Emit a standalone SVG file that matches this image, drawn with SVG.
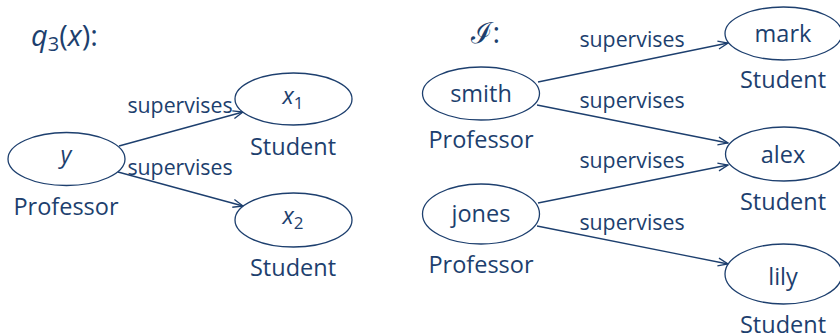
<svg xmlns="http://www.w3.org/2000/svg" width="840" height="336" viewBox="0 0 840 336">
<style>
text{font-family:"Open Sans","Noto Sans","DejaVu Sans",sans-serif;fill:#1d3f6e;text-anchor:middle}
.n{font-size:23.5px}
.l{font-size:21.3px}
.e{font-size:23.5px}
.t{font-size:29px;text-anchor:start}
.i{font-style:italic}
ellipse{fill:#fff;stroke:#1d3f6e;stroke-width:1.3}
.c line{stroke:#1d3f6e;stroke-width:1.3;marker-end:url(#a)}
</style>
<defs>
<marker id="a" viewBox="0 0 12 10" refX="11" refY="5" markerWidth="12" markerHeight="10" markerUnits="userSpaceOnUse" orient="auto">
<path d="M1,1 L11,5 L1,9" fill="none" stroke="#1d3f6e" stroke-width="1.3"/>
</marker>
</defs>
<g id="title-q"><text class="t" x="31" y="46"><tspan class="i">q</tspan><tspan font-size="20" dy="5">3</tspan><tspan dy="-5">(</tspan><tspan class="i">x</tspan>):</text></g>
<g id="title-I"><text class="t" x="471" y="43" font-size="27" font-family="DejaVu Serif, serif">ℐ:</text></g>
<g class="c" id="connectors">
<line x1="119" y1="146" x2="243" y2="112"/>
<line x1="118" y1="172" x2="243" y2="206"/>
<line x1="538" y1="82" x2="728" y2="43"/>
<line x1="537" y1="105" x2="728" y2="143"/>
<line x1="538" y1="203" x2="728" y2="165"/>
<line x1="537" y1="226" x2="728" y2="264"/>
</g>
<g id="labels">
<text class="l" x="180" y="113">supervises</text>
<text class="l" x="180" y="175">supervises</text>
<text class="l" x="632" y="47">supervises</text>
<text class="l" x="632" y="108">supervises</text>
<text class="l" x="632" y="168">supervises</text>
<text class="l" x="632" y="230">supervises</text>
</g>
<g id="node-y"><ellipse cx="66.5" cy="159" rx="58.5" ry="26.5"/><text class="e i" x="66" y="163">y</text><text class="n" x="66" y="215">Professor</text></g>
<g id="node-x1"><ellipse cx="293.5" cy="99" rx="58.5" ry="26"/><text class="e" x="293" y="104"><tspan class="i">x</tspan><tspan font-size="17" dy="5">1</tspan></text><text class="n" x="293" y="155">Student</text></g>
<g id="node-x2"><ellipse cx="293.5" cy="220" rx="58.5" ry="27"/><text class="e" x="293" y="224"><tspan class="i">x</tspan><tspan font-size="17" dy="5">2</tspan></text><text class="n" x="293" y="276">Student</text></g>
<g id="node-smith"><ellipse cx="481" cy="93.5" rx="58.5" ry="26.5"/><text class="e" x="481" y="102">smith</text><text class="n" x="481" y="148">Professor</text></g>
<g id="node-jones"><ellipse cx="481" cy="214" rx="58.5" ry="30"/><text class="e" x="481" y="222">jones</text><text class="n" x="481" y="273">Professor</text></g>
<g id="node-mark"><ellipse cx="783.5" cy="33.5" rx="58.5" ry="26.5"/><text class="e" x="783" y="42">mark</text><text class="n" x="783" y="88">Student</text></g>
<g id="node-alex"><ellipse cx="784" cy="154" rx="58.5" ry="27"/><text class="e" x="783" y="163">alex</text><text class="n" x="783" y="210">Student</text></g>
<g id="node-lily"><ellipse cx="783.5" cy="274" rx="58.5" ry="30"/><text class="e" x="783" y="285">lily</text><text class="n" x="783" y="333">Student</text></g>
</svg>
